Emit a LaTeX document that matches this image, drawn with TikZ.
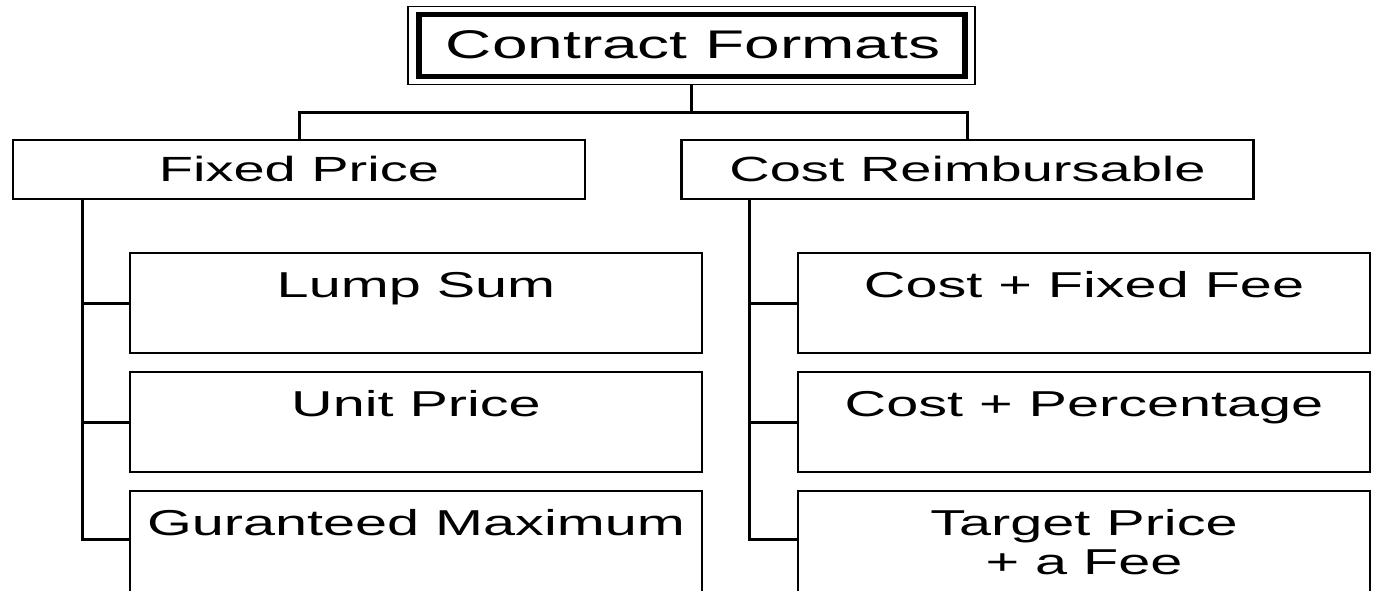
\documentclass[tikz,border=0pt]{standalone}
\usepackage{fontspec}
\setmainfont{Liberation Sans}
\newcommand{\stretchtxt}[1]{\scalebox{1.6}[1]{#1}}
\tikzset{
  x=1pt, y=-1pt,
  wire/.style={draw=black, line width=3pt},
  headbox/.style={draw=black, line width=2.5pt, fill=white, minimum width=572pt, minimum height=59pt, inner sep=0pt},
  itembox/.style={draw=black, line width=2.5pt, fill=white, minimum width=572pt, minimum height=100pt, inner sep=0pt},
  lastbox/.style={itembox, minimum height=120pt},
  big/.style={inner sep=0pt, anchor=base, font=\fontsize{40}{44}\selectfont},
  mid/.style={inner sep=0pt, anchor=base, font=\fontsize{35}{40}\selectfont},
  small/.style={inner sep=0pt, anchor=base, font=\fontsize{36}{40}\selectfont},
}
\begin{document}
\begin{tikzpicture}
\useasboundingbox (0,0) rectangle (1376,591);

% title with a double frame
\node[draw=black, line width=1.8pt, minimum width=567pt, minimum height=78pt, inner sep=0pt] (cfo) at (691.5,45.5) {};
\node[draw=black, line width=5.8pt, minimum width=546pt, minimum height=62pt, inner sep=0pt] (cf) at (692,45.5) {};
\node[big] (cft) at (693,59) {\stretchtxt{Contract Formats}};

% second level
\node[headbox] (fp) at (299,169.5) {};
\node[mid] (fpt) at (299,181) {\stretchtxt{Fixed Price}};
\node[headbox] (cr) at (967.5,169.5) {};
\node[mid] (crt) at (967.5,181) {\stretchtxt{Cost Reimbursable}};

% third level, fixed price branch
\node[itembox] (ls) at (416,303) {};
\node[small] (lst) at (416,297) {\stretchtxt{Lump Sum}};
\node[itembox] (up) at (416,422) {};
\node[small] (upt) at (416,416) {\stretchtxt{Unit Price}};
\node[lastbox] (gm) at (416,551) {};
\node[small] (gmt) at (416,535) {\stretchtxt{Guranteed Maximum}};

% third level, cost reimbursable branch
\node[itembox] (cff) at (1084,303) {};
\node[small] (cfft) at (1084,297) {\stretchtxt{Cost + Fixed Fee}};
\node[itembox] (cp) at (1084,422) {};
\node[small] (cpt) at (1084,416) {\stretchtxt{Cost + Percentage}};
\node[lastbox] (tp) at (1084,551) {};
\node[small] (tpt) at (1084,535) {\stretchtxt{Target Price}};
\node[small] (tpf) at (1084,574) {\stretchtxt{+ a Fee}};

% connectors
\coordinate (split) at ([yshift=-27pt]cfo.south);
\draw[wire] (cfo.south) -- (split);
\draw[wire] (split) -| (fp.north);
\draw[wire] (split) -| (cr.north);

\coordinate (ltrunk) at ([xshift=71pt]fp.south west);
\draw[wire] (ltrunk) |- (ls.west);
\draw[wire] (ltrunk) |- (up.west);
\draw[wire] (ltrunk) |- ([yshift=-50pt]gm.north west);

\coordinate (rtrunk) at ([xshift=69pt]cr.south west);
\draw[wire] (rtrunk) |- (cff.west);
\draw[wire] (rtrunk) |- (cp.west);
\draw[wire] (rtrunk) |- ([yshift=-50pt]tp.north west);
\end{tikzpicture}
\end{document}
